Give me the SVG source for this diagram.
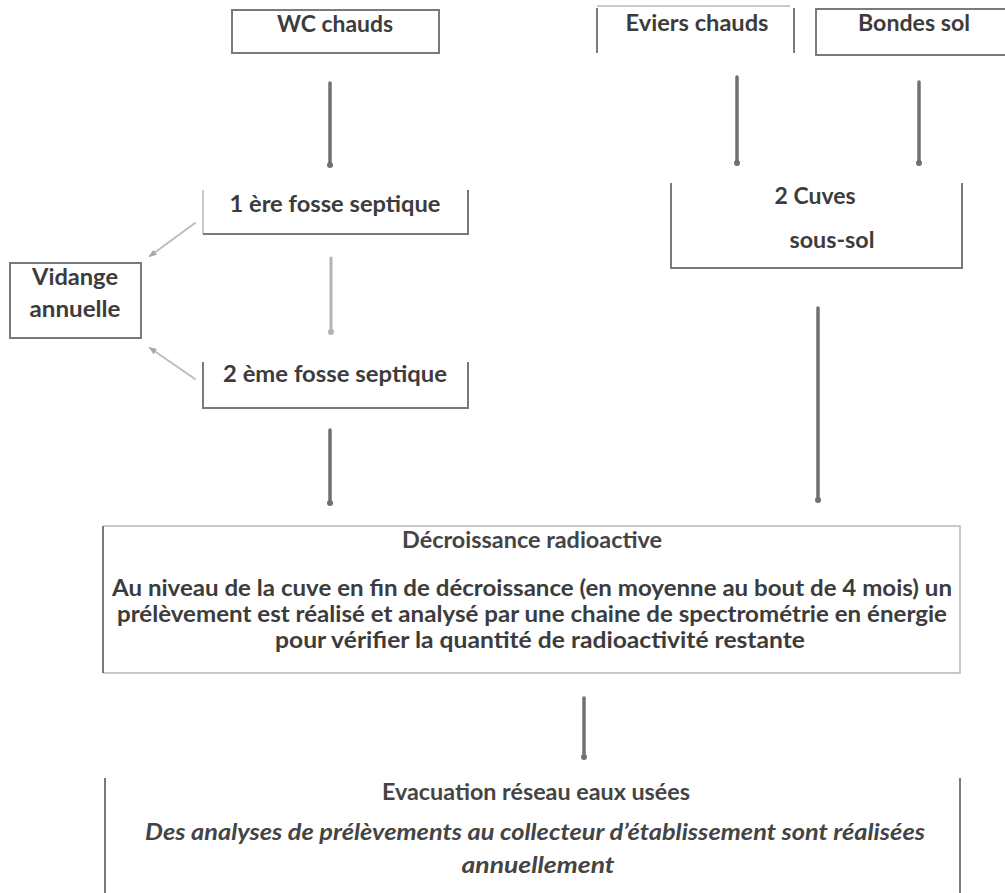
<svg xmlns="http://www.w3.org/2000/svg" width="1005" height="893" viewBox="0 0 1005 893">
<style>
  .bg { fill: #ffffff; }
  .edge { fill: none; stroke: #7a7a7a; stroke-width: 2; }
  .edge-light { fill: none; stroke: #b8b8b8; stroke-width: 1.5; }
  .t { font-family: Lato, "Open Sans", "Liberation Sans", sans-serif; font-weight: bold; font-size: 22px; fill: #3c3c3c; text-anchor: middle; }
  .tn { font-family: Lato, "Open Sans", "Liberation Sans", sans-serif; font-weight: bold; font-size: 22px; fill: #444444; text-anchor: middle; }
  .ti { font-family: Lato, "Open Sans", "Liberation Sans", sans-serif; font-weight: bold; font-style: italic; font-size: 22px; fill: #444444; text-anchor: middle; }
  .conn { fill: none; stroke: #707070; stroke-width: 3.5; stroke-linecap: round; }
  .conn-light { fill: none; stroke: #b4b4b4; stroke-width: 3; stroke-linecap: round; }
  .conn-diag { fill: none; stroke: #bdbdbd; stroke-width: 2; stroke-linecap: round; }
</style>
<defs>
  <marker id="dot" viewBox="0 0 10 10" refX="5" refY="5" markerWidth="6" markerHeight="6" markerUnits="userSpaceOnUse">
    <circle cx="5" cy="5" r="5" fill="#707070"/>
  </marker>
  <marker id="dot-light" viewBox="0 0 10 10" refX="5" refY="5" markerWidth="6" markerHeight="6" markerUnits="userSpaceOnUse">
    <circle cx="5" cy="5" r="5" fill="#b4b4b4"/>
  </marker>
  <marker id="head" viewBox="0 0 10 10" refX="8" refY="5" markerWidth="8" markerHeight="8" markerUnits="userSpaceOnUse" orient="auto">
    <path d="M0,1 L10,5 L0,9 z" fill="#a8a8a8"/>
  </marker>
</defs>
<rect class="bg" x="0" y="0" width="1005" height="893"/>

<g id="connectors">
  <line class="conn" x1="330" y1="83" x2="330" y2="165" marker-end="url(#dot)"/>
  <line class="conn" x1="737" y1="77" x2="737" y2="163" marker-end="url(#dot)"/>
  <line class="conn" x1="919" y1="82" x2="919" y2="163" marker-end="url(#dot)"/>
  <line class="conn-light" x1="331" y1="258" x2="331" y2="332" marker-end="url(#dot-light)"/>
  <line class="conn" x1="330" y1="430" x2="330" y2="503" marker-end="url(#dot)"/>
  <line class="conn" x1="818" y1="308" x2="818" y2="500" marker-end="url(#dot)"/>
  <line class="conn" x1="584" y1="698" x2="584" y2="757" marker-end="url(#dot)"/>
  <line class="conn-diag" x1="195" y1="223" x2="150" y2="256" marker-end="url(#head)"/>
  <line class="conn-diag" x1="195" y1="379" x2="150" y2="348" marker-end="url(#head)"/>
</g>

<g id="wc-chauds">
  <rect class="edge" x="232" y="10" width="207" height="43"/>
  <text class="t" x="335" y="32" textLength="116" lengthAdjust="spacingAndGlyphs">WC chauds</text>
</g>

<g id="eviers-chauds">
  <path class="edge-light" d="M597,6 H790" stroke="#d0d0d0"/>
  <path class="edge" d="M597,8 V53 M794,8 V53"/>
  <text class="t" x="697" y="31" textLength="143" lengthAdjust="spacingAndGlyphs">Eviers chauds</text>
</g>

<g id="bondes-sol">
  <path class="edge" d="M1005,9 H816 V55 H1005"/>
  <text class="t" x="914" y="31" textLength="112" lengthAdjust="spacingAndGlyphs">Bondes sol</text>
</g>

<g id="fosse-1">
  <path class="edge-light" d="M203,190 V234"/>
  <path class="edge" d="M203,234 H468 V190"/>
  <text class="t" x="335" y="212" textLength="211" lengthAdjust="spacingAndGlyphs">1 ère fosse septique</text>
</g>

<g id="fosse-2">
  <path class="edge" d="M203,362 V408 H468 V362"/>
  <text class="t" x="335" y="382" textLength="224" lengthAdjust="spacingAndGlyphs">2 ème fosse septique</text>
</g>

<g id="vidange">
  <rect class="edge" x="10" y="263" width="131" height="75"/>
  <text class="t" x="75" y="285" textLength="86" lengthAdjust="spacingAndGlyphs">Vidange</text>
  <text class="t" x="75" y="317" textLength="91" lengthAdjust="spacingAndGlyphs">annuelle</text>
</g>

<g id="cuves">
  <path class="edge" d="M671,183 V268 H962 V183"/>
  <text class="t" x="815" y="204" textLength="81" lengthAdjust="spacingAndGlyphs">2 Cuves</text>
  <text class="t" x="832" y="248" textLength="85" lengthAdjust="spacingAndGlyphs">sous-sol</text>
</g>

<g id="decroissance">
  <path class="edge-light" d="M103,526 H960 V673 H103"/>
  <path class="edge" d="M103,526 V673" stroke="#8a8a8a"/>
  <text class="tn" x="532" y="548" textLength="260" lengthAdjust="spacingAndGlyphs">Décroissance radioactive</text>
  <text class="t" x="532" y="596" textLength="840" lengthAdjust="spacingAndGlyphs">Au niveau de la cuve en fin de décroissance (en moyenne au bout de 4 mois) un</text>
  <text class="t" x="532" y="622" textLength="830" lengthAdjust="spacingAndGlyphs">prélèvement est réalisé et analysé par une chaine de spectrométrie en énergie</text>
  <text class="t" x="540" y="648" textLength="530" lengthAdjust="spacingAndGlyphs">pour vérifier la quantité de radioactivité restante</text>
</g>

<g id="evacuation">
  <path class="edge" d="M105,778 V893 M960,778 V893" stroke="#8a8a8a"/>
  <text class="tn" x="536" y="800" textLength="308" lengthAdjust="spacingAndGlyphs">Evacuation réseau eaux usées</text>
  <text class="ti" x="535" y="840" textLength="780" lengthAdjust="spacingAndGlyphs">Des analyses de prélèvements au collecteur d’établissement sont réalisées</text>
  <text class="ti" x="538" y="873" textLength="153" lengthAdjust="spacingAndGlyphs">annuellement</text>
</g>
</svg>
